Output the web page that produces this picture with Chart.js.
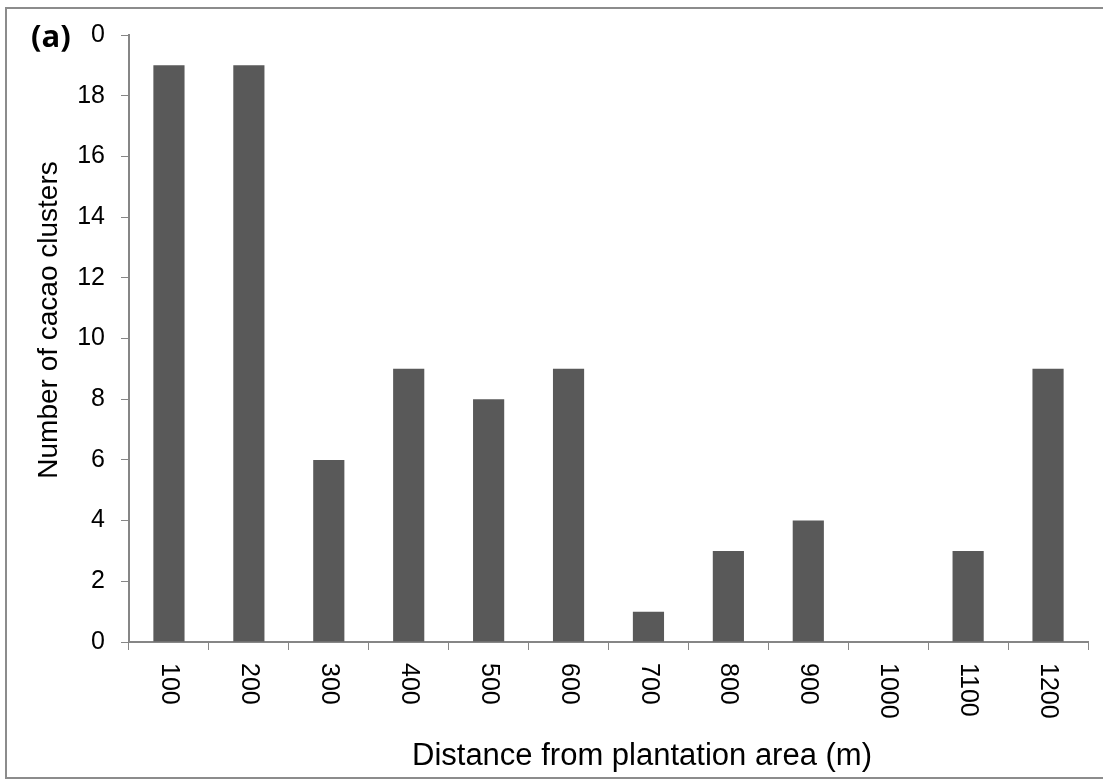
<!DOCTYPE html>
<html>
<head>
<meta charset="utf-8">
<script src="https://cdn.jsdelivr.net/npm/chart.js@4.4.1/dist/chart.umd.min.js"></script>
<style>
  html, body { margin: 0; padding: 0; background: #fff; }
  #wrap { width: 1103px; height: 780px; position: relative; }
</style>
</head>
<body>
<div id="wrap"><canvas id="bars"></canvas></div>
<script>
"use strict";
// data
var distances = ["100", "200", "300", "400", "500", "600", "700", "800", "900", "1000", "1100", "1200"];
var clusters = [19, 19, 6, 9, 8, 9, 1, 3, 4, 0, 3, 9];
var yTickLabels = ["0", "2", "4", "6", "8", "10", "12", "14", "16", "18", "0"];
var panelLabel = "(a)";
var xTitle = "Distance from plantation area (m)";
var yTitle = "Number of cacao clusters";

var axisGrey = "#868686";
var sans = "'Liberation Sans', Arial, sans-serif";

// frame, panel tag, axis titles and the top-to-bottom category labels
var decorations = {
    id: "decorations",
    beforeDraw: function (chart) {
        var ctx = chart.ctx;
        ctx.save();
        ctx.fillStyle = "#fff";
        ctx.fillRect(0, 0, chart.width, chart.height);
        ctx.strokeStyle = "#8c8c8c";
        ctx.lineWidth = 2;
        ctx.strokeRect(6, 8, 1200, 770);
        ctx.restore();
    },
    afterDraw: function (chart) {
        var ctx = chart.ctx, x = chart.scales.x;
        ctx.save();
        ctx.fillStyle = "#000";
        ctx.textBaseline = "middle";
        ctx.font = "bold 31px 'Open Sans', sans-serif";
        ctx.fillText(panelLabel, 31, 38);

        ctx.font = "25px " + sans;
        distances.forEach(function (lab, i) {
            ctx.save();
            ctx.translate(x.getPixelForValue(i), x.top + 21);
            ctx.rotate(Math.PI / 2);
            ctx.textAlign = "left";
            ctx.fillText(lab, 0, 0);
            ctx.restore();
        });

        ctx.textAlign = "center";
        ctx.font = "31px " + sans;
        ctx.fillText(xTitle, 642, 756);

        ctx.save();
        ctx.translate(49, 320);
        ctx.rotate(-Math.PI / 2);
        ctx.font = "28px " + sans;
        ctx.fillText(yTitle, 0, 0);
        ctx.restore();
        ctx.restore();
    }
};

new Chart(document.getElementById("bars").getContext("2d"), {
    type: "bar",
    data: {
        labels: distances,
        datasets: [{
            data: clusters,
            backgroundColor: "#595959",
            borderWidth: 0,
            barPercentage: 0.39,
            categoryPercentage: 1
        }]
    },
    options: {
        responsive: true,
        maintainAspectRatio: false,
        animation: false,
        layout: {padding: {left: 0, right: 15, top: 35, bottom: 0}},
        plugins: {legend: {display: false}, tooltip: {enabled: false}},
        scales: {
            x: {
                grid: {display: true, drawOnChartArea: false, drawTicks: true, tickLength: 8, color: axisGrey, offset: true},
                border: {display: true, color: axisGrey, width: 2},
                ticks: {color: "rgba(0,0,0,0)", minRotation: 90, maxRotation: 90, autoSkip: false, font: {size: 25, family: sans}},
                afterFit: function (s) { s.height = 138; }
            },
            y: {
                min: 0,
                max: 20,
                grid: {display: true, drawOnChartArea: false, drawTicks: true, tickLength: 8, color: axisGrey},
                border: {display: true, color: axisGrey, width: 2},
                ticks: {
                    stepSize: 2,
                    padding: 16,
                    color: "#000",
                    font: {size: 25, family: sans},
                    callback: function (v, i) { return yTickLabels[i]; }
                },
                afterFit: function (s) { s.width = 129; }
            }
        }
    },
    plugins: [decorations]
});
</script>
</body>
</html>
